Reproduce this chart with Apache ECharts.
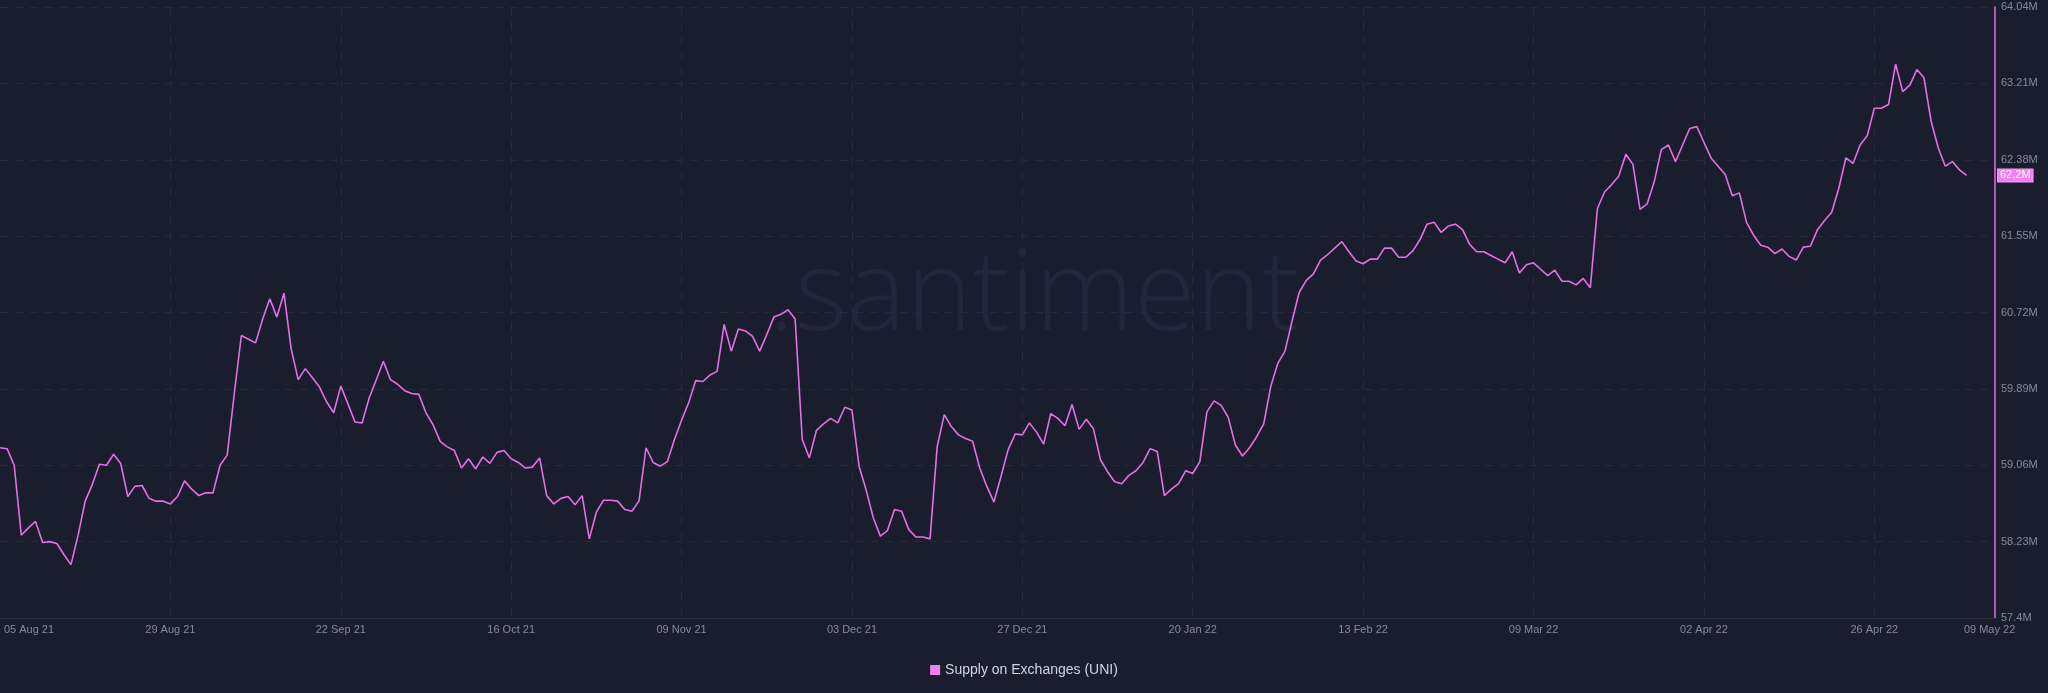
<!DOCTYPE html>
<html>
<head>
<meta charset="utf-8">
<style>
  html, body { margin: 0; padding: 0; background: #1a1d2d; }
  #chart { width: 2048px; height: 693px; }
</style>
<script src="https://cdn.jsdelivr.net/npm/echarts@6.0.0/dist/echarts.min.js"></script>
</head>
<body>
<div id="chart"></div>
<script>
// ---------- DATA ----------
const seriesName = 'Supply on Exchanges (UNI)';
const startDate = '2021-08-05';   // first daily point
const padDays = 4;                 // empty space right of the last point

// Daily supply on exchanges, in millions of UNI (05 Aug 21 .. 09 May 22)
const supplyValues = [
  59.25, 59.24, 59.06, 58.30, 58.38, 58.45, 58.22, 58.23, 58.21, 58.09,
  57.98, 58.30, 58.67, 58.85, 59.07, 59.06, 59.18, 59.08, 58.72, 58.83,
  58.84, 58.70, 58.67, 58.67, 58.64, 58.72, 58.89, 58.80, 58.73, 58.76,
  58.76, 59.06, 59.17, 59.84, 60.47, 60.43, 60.39, 60.65, 60.87, 60.67,
  60.93, 60.33, 59.99, 60.11, 60.01, 59.91, 59.75, 59.63, 59.92, 59.73,
  59.53, 59.52, 59.79, 59.99, 60.19, 59.99, 59.94, 59.87, 59.84, 59.83,
  59.63, 59.50, 59.32, 59.26, 59.22, 59.03, 59.13, 59.02, 59.15, 59.08,
  59.20, 59.22, 59.13, 59.09, 59.03, 59.04, 59.14, 58.73, 58.64, 58.70,
  58.72, 58.63, 58.73, 58.26, 58.55, 58.68, 58.68, 58.67, 58.58, 58.56,
  58.67, 59.25, 59.09, 59.05, 59.10, 59.34, 59.55, 59.74, 59.98, 59.97,
  60.04, 60.08, 60.59, 60.30, 60.54, 60.52, 60.46, 60.30, 60.48, 60.67,
  60.70, 60.75, 60.65, 59.34, 59.14, 59.44, 59.51, 59.57, 59.52, 59.69,
  59.66, 59.05, 58.79, 58.49, 58.29, 58.35, 58.58, 58.56, 58.36, 58.28,
  58.28, 58.26, 59.26, 59.61, 59.48, 59.39, 59.35, 59.32, 59.03, 58.83,
  58.66, 58.94, 59.23, 59.40, 59.39, 59.52, 59.42, 59.29, 59.62, 59.57,
  59.49, 59.72, 59.45, 59.56, 59.46, 59.12, 58.99, 58.88, 58.86, 58.95,
  59.00, 59.09, 59.24, 59.21, 58.73, 58.80, 58.86, 59.00, 58.97, 59.10,
  59.64, 59.76, 59.71, 59.58, 59.28, 59.16, 59.25, 59.37, 59.51, 59.92,
  60.17, 60.30, 60.63, 60.94, 61.07, 61.14, 61.29, 61.35, 61.42, 61.49,
  61.38, 61.28, 61.25, 61.30, 61.30, 61.42, 61.42, 61.32, 61.32, 61.39,
  61.51, 61.68, 61.70, 61.59, 61.66, 61.68, 61.62, 61.46, 61.38, 61.38,
  61.34, 61.30, 61.26, 61.38, 61.15, 61.24, 61.26, 61.19, 61.12, 61.18,
  61.06, 61.06, 61.02, 61.09, 60.99, 61.85, 62.03, 62.11, 62.20, 62.44,
  62.33, 61.84, 61.90, 62.14, 62.49, 62.54, 62.36, 62.54, 62.72, 62.74,
  62.57, 62.40, 62.31, 62.22, 61.99, 62.02, 61.70, 61.56, 61.45, 61.43,
  61.36, 61.41, 61.33, 61.29, 61.43, 61.44, 61.62, 61.72, 61.81, 62.07,
  62.40, 62.34, 62.54, 62.64, 62.94, 62.94, 62.98, 63.42, 63.12, 63.19,
  63.36, 63.27, 62.80, 62.51, 62.31, 62.36, 62.27, 62.21
];

// Tick labels
const xTickLabels = ['05 Aug 21', '29 Aug 21', '22 Sep 21', '16 Oct 21', '09 Nov 21', '03 Dec 21',
  '27 Dec 21', '20 Jan 22', '13 Feb 22', '09 Mar 22', '02 Apr 22', '26 Apr 22', '09 May 22'];
const yTicks = [57.4, 58.23, 59.06, 59.89, 60.72, 61.55, 62.38, 63.21, 64.04];

// ---------- BUILD CATEGORIES ----------
const MONTHS = ['Jan','Feb','Mar','Apr','May','Jun','Jul','Aug','Sep','Oct','Nov','Dec'];
function fmtDate(d) {
  const dd = String(d.getUTCDate()).padStart(2, '0');
  return dd + ' ' + MONTHS[d.getUTCMonth()] + ' ' + String(d.getUTCFullYear()).slice(2);
}
const categories = [];
{
  const t0 = Date.parse(startDate + 'T00:00:00Z');
  for (let i = 0; i < supplyValues.length + padDays; i++) {
    categories.push(fmtDate(new Date(t0 + i * 86400000)));
  }
}
const firstLabel = xTickLabels[0];
const lastLabel = xTickLabels[xTickLabels.length - 1];
const gridLabels = xTickLabels.slice(1, -1);
const lastValue = supplyValues[supplyValues.length - 1];

// ---------- CHART ----------
const chart = echarts.init(document.getElementById('chart'), null, { renderer: 'canvas' });
const labelColor = '#858aa0';
const font = 'Arial, "Liberation Sans", sans-serif';

chart.setOption({
  backgroundColor: '#1a1d2d',
  animation: false,
  textStyle: { fontFamily: font },
  graphic: [{
    type: 'text',
    z: 0,
    silent: true,
    style: {
      x: 768, y: 298,
      text: '.santiment',
      fontSize: 112,
      fontWeight: 300,
      fontFamily: '"Open Sans", sans-serif',
      fill: '#22263a',
      verticalAlign: 'middle'
    }
  }],
  grid: { left: 0, right: 53, top: 7, bottom: 75, containLabel: false },
  legend: {
    data: [seriesName],
    left: 'center',
    top: 658,
    icon: 'rect',
    itemWidth: 10,
    itemHeight: 10,
    itemGap: 10,
    textStyle: { color: '#d2d4df', fontSize: 14, fontFamily: font }
  },
  xAxis: {
    type: 'category',
    data: categories,
    boundaryGap: false,
    axisLine: { show: true, lineStyle: { color: '#2a2e41', width: 1 } },
    axisTick: { show: false },
    axisLabel: {
      color: labelColor,
      fontSize: 11,
      margin: 6,
      interval: (idx, val) => xTickLabels.indexOf(val) !== -1,
      formatter: (val) => {
        if (val === firstLabel) return '{first|' + val + '}';
        if (val === lastLabel) return '{last|' + val + '}';
        return val;
      },
      rich: {
        first: { color: labelColor, fontSize: 11, padding: [0, 0, 0, 58] },
        last: { color: labelColor, fontSize: 11, padding: [0, 0, 0, 46] }
      }
    },
    splitLine: {
      show: true,
      interval: (idx, val) => gridLabels.indexOf(val) !== -1,
      lineStyle: { color: '#262a3c', type: [8, 7], width: 1 }
    }
  },
  yAxis: {
    type: 'value',
    position: 'right',
    min: yTicks[0],
    max: yTicks[yTicks.length - 1],
    axisLine: { show: true, lineStyle: { color: '#e46fe6', width: 1.5 } },
    axisTick: { show: false, customValues: yTicks },
    axisLabel: {
      customValues: yTicks,
      color: labelColor,
      fontSize: 11,
      margin: 6,
      formatter: (v) => v + 'M'
    },
    splitLine: {
      show: true,
      lineStyle: { color: '#262a3c', type: [8, 7], width: 1 }
    }
  },
  series: [{
    name: seriesName,
    type: 'line',
    data: supplyValues,
    color: '#f37ef3',
    symbol: 'none',
    smooth: false,
    clip: false,
    lineStyle: { color: '#e46fe6', width: 1.6 },
    z: 3,
    markLine: {
      silent: true,
      symbol: ['none', 'none'],
      animation: false,
      lineStyle: { color: 'rgba(0,0,0,0)', width: 0, type: 'solid' },
      emphasis: { disabled: true },
      data: [{ yAxis: lastValue }],
      label: {
        show: true,
        position: 'end',
        distance: 3,
        opacity: 1,
        formatter: () => lastValue.toFixed(1) + 'M',
        color: '#ffffff',
        backgroundColor: '#f37ef3',
        borderColor: '#f79af7',
        borderWidth: 1,
        padding: [1, 2, 0, 2],
        fontSize: 11,
        fontFamily: font
      }
    }
  }]
});
</script>
</body>
</html>
